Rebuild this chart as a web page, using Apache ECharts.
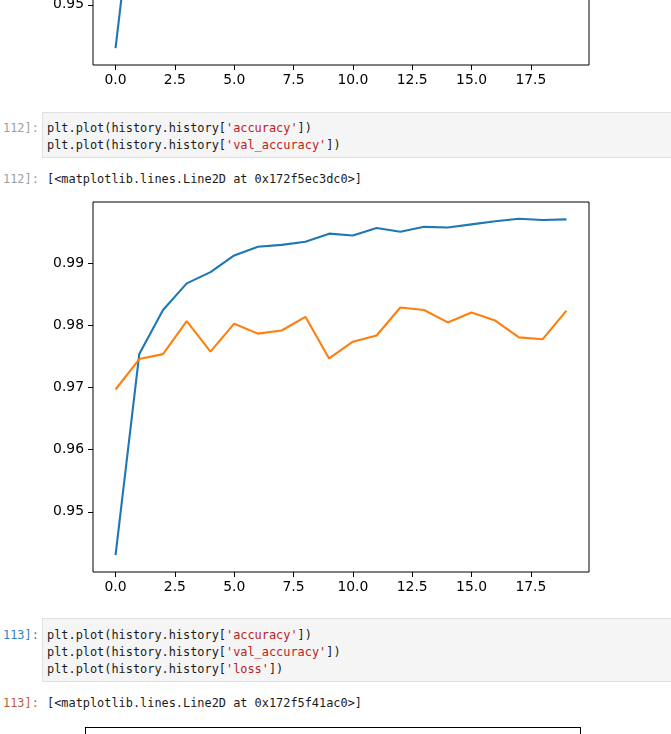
<!DOCTYPE html>
<html>
<head>
<meta charset="utf-8">
<script src="https://cdn.jsdelivr.net/npm/echarts@6/dist/echarts.min.js"></script>
<style>
  html, body { margin: 0; padding: 0; background: #fff; }
  body { width: 671px; height: 734px; overflow: hidden; position: relative; }
  .mono { font-family: "DejaVu Sans Mono", "Liberation Mono", monospace; font-size: 11.9px; line-height: 17px; white-space: pre; position: absolute; color: #1a1a1a; }
  .prompt { color: #9e9e9e; }
  .prompt.in-active { color: #307fc1; }
  .prompt.out-active { color: #bf5b3d; }
  .cell { position: absolute; left: 42px; right: -5px; background: #f5f5f5; border: 1px solid #e0e0e0; }
  .s { color: #ba2121; }
  .chart { position: absolute; left: 0; width: 671px; height: 420px; }
</style>
</head>
<body>
<div id="chartTop" class="chart" style="top:-325px"></div>

<div class="cell" style="top:112px; height:44px"></div>
<div class="mono prompt" style="left:3px; top:120px">112]:</div>
<div class="mono" style="left:47px; top:120px">plt.plot(history.history[<span class="s">'accuracy'</span>])
plt.plot(history.history[<span class="s">'val_accuracy'</span>])</div>
<div class="mono prompt" style="left:3px; top:171px">112]:</div>
<div class="mono" style="left:47px; top:171px">[&lt;matplotlib.lines.Line2D at 0x172f5ec3dc0&gt;]</div>

<div id="chartMain" class="chart" style="top:182px"></div>

<div class="cell" style="top:618px; height:62px"></div>
<div class="mono prompt in-active" style="left:3px; top:627px">113]:</div>
<div class="mono" style="left:47px; top:627px">plt.plot(history.history[<span class="s">'accuracy'</span>])
plt.plot(history.history[<span class="s">'val_accuracy'</span>])
plt.plot(history.history[<span class="s">'loss'</span>])</div>
<div class="mono prompt out-active" style="left:3px; top:695px">113]:</div>
<div class="mono" style="left:47px; top:695px">[&lt;matplotlib.lines.Line2D at 0x172f5f41ac0&gt;]</div>

<div style="position:absolute; left:85px; top:727px; width:494px; height:60px; border:1px solid #000;"></div>

<script>
// values, one per epoch
const epochs = [0, 1, 2, 3, 4, 5, 6, 7, 8, 9, 10, 11, 12, 13, 14, 15, 16, 17, 18, 19];
const accuracy = [0.9430, 0.9754, 0.9825, 0.9868, 0.9886, 0.9913, 0.9927, 0.9930, 0.9935, 0.9948,
  0.9945, 0.9957, 0.9951, 0.9959, 0.9958, 0.9963, 0.9968, 0.9972, 0.9970, 0.9971];
const valAccuracy = [0.9697, 0.9746, 0.9754, 0.9807, 0.9758, 0.9803, 0.9787, 0.9792, 0.9814, 0.9747,
  0.9774, 0.9784, 0.9829, 0.9825, 0.9805, 0.9821, 0.9808, 0.9781, 0.9778, 0.9824];
const xTicks = [0, 2.5, 5, 7.5, 10, 12.5, 15, 17.5];
const yTicks = [0.95, 0.96, 0.97, 0.98, 0.99];

const tickFont = { color: "#000", fontSize: 13.9, fontFamily: "DejaVu Sans" };

const makeOption = (seriesList) => ({
  animation: false,
  grid: {
    left: 93,
    top: 20,
    width: 496,
    height: 370,
    show: true,
    borderColor: "#000",
    borderWidth: 1,
  },
  xAxis: {
    type: "value",
    min: -0.95,
    max: 19.95,
    splitLine: { show: false },
    axisLine: { show: false, onZero: false },
    axisTick: {
      show: true,
      length: 5,
      lineStyle: { color: "#000", width: 1 },
      customValues: xTicks,
    },
    axisLabel: {
      ...tickFont,
      margin: 8,
      customValues: xTicks,
      formatter: (v) => v.toFixed(1),
    },
  },
  yAxis: {
    type: "value",
    min: 0.9403,
    max: 0.9999,
    splitLine: { show: false },
    axisLine: { show: false, onZero: false },
    axisTick: {
      show: true,
      length: 5,
      lineStyle: { color: "#000", width: 1 },
      customValues: yTicks,
    },
    axisLabel: {
      ...tickFont,
      margin: 9,
      customValues: yTicks,
      formatter: (v) => v.toFixed(2),
    },
  },
  series: seriesList.map((s) => ({
    type: "line",
    data: epochs.map((e, i) => [e, s.values[i]]),
    showSymbol: false,
    lineStyle: { color: s.color, width: 2.1 },
    itemStyle: { color: s.color },
  })),
});

const topChart = echarts.init(document.getElementById("chartTop"));
topChart.setOption(makeOption([{ values: accuracy, color: "#1f77b4" }]));

const mainChart = echarts.init(document.getElementById("chartMain"));
mainChart.setOption(makeOption([
  { values: accuracy, color: "#1f77b4" },
  { values: valAccuracy, color: "#ff7f0e" },
]));
</script>
</body>
</html>
